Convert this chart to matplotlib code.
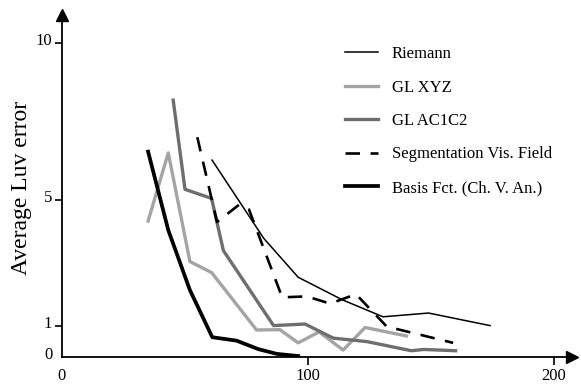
import matplotlib
matplotlib.use("Agg")
import matplotlib.pyplot as plt
from matplotlib.transforms import ScaledTranslation

plt.rcParams['font.family'] = ['Liberation Serif', 'DejaVu Serif']

# values
riemann_x = [61, 82, 96, 114, 130.5, 149, 174]
riemann_y = [6.27, 3.78, 2.54, 1.82, 1.28, 1.4, 1.0]

xyz_x = [35, 43.2, 52, 60.8, 79.1, 88.6, 96, 104.5, 114.3, 123.2, 140]
xyz_y = [4.33, 6.5, 3.04, 2.69, 0.86, 0.87, 0.45, 0.8, 0.22, 0.94, 0.67]

ac_x = [45.2, 50, 60.8, 65.6, 86, 98.8, 110.3, 124, 142, 147, 160]
ac_y = [8.18, 5.34, 5.05, 3.39, 1.0, 1.05, 0.6, 0.49, 0.2, 0.24, 0.2]

seg_x = [55, 63, 72, 76, 89.5, 99.5, 109, 119.5, 132, 159]
seg_y = [7.0, 4.3, 4.85, 4.7, 1.9, 1.93, 1.7, 2.0, 0.97, 0.45]

basis_x = [35, 43.2, 52, 61.1, 71, 79.8, 87.3, 96]
basis_y = [6.54, 4.04, 2.13, 0.63, 0.52, 0.25, 0.1, 0.03]

xticks = [0, 100, 200]
yticks = [0, 1, 5, 10]

fig = plt.figure(figsize=(5.81, 3.85), dpi=100)
ax = fig.add_axes([62 / 581, 28 / 385, 510 / 581, 339 / 385])

ax.plot(riemann_x, riemann_y, color='black', lw=1.1, label='Riemann')
ax.plot(xyz_x, xyz_y, color='#a4a4a4', lw=2.4, label='GL XYZ')
ax.plot(ac_x, ac_y, color='#6e6e6e', lw=2.4, label='GL AC1C2')
ax.plot(seg_x, seg_y, color='black', lw=1.9, dashes=(5.5, 4),
        label='Segmentation Vis. Field')
ax.plot(basis_x, basis_y, color='black', lw=2.7, label='Basis Fct. (Ch. V. An.)')

ax.set_xlim(0, 510 / 2.46)
ax.set_ylim(0, 339 / 31.4)

for s in ['top', 'right']:
    ax.spines[s].set_visible(False)
for s in ['left', 'bottom']:
    ax.spines[s].set_linewidth(1.3)

# arrow heads at the ends of the axes
ax.plot(1, 0, marker='>', color='black', markersize=9, transform=ax.transAxes, clip_on=False)
ax.plot(0, 1.01, marker='^', color='black', markersize=9, transform=ax.transAxes, clip_on=False)

ax.set_xticks(xticks)
ax.set_yticks(yticks)
ax.set_xticklabels([str(v) for v in xticks])
ax.set_yticklabels([str(v) for v in yticks])
ax.tick_params(axis='x', direction='out', length=6, width=1.2, pad=2, labelsize=12)
ax.tick_params(axis='y', direction='out', length=5, width=1.2, pad=2, labelsize=12)
ax.xaxis.get_major_ticks()[0].tick1line.set_visible(False)
ax.yaxis.get_major_ticks()[0].tick1line.set_visible(False)

# y labels sit a little above their ticks in the original
shift = ScaledTranslation(0, 4 / 100, fig.dpi_scale_trans)
for lbl in ax.get_yticklabels():
    lbl.set_transform(lbl.get_transform() + shift)

ax.set_ylabel('Average Luv error', fontsize=17)
ax.yaxis.set_label_coords(-0.058, 0.5)

ax.legend(loc='upper left', bbox_to_anchor=(345 / 581, 1 - 46 / 385),
          bbox_transform=fig.transFigure, frameon=False, fontsize=12,
          handlelength=2.0, handletextpad=0.8, labelspacing=1.05,
          borderpad=0, borderaxespad=0)

fig.savefig('out.png', dpi=100)
